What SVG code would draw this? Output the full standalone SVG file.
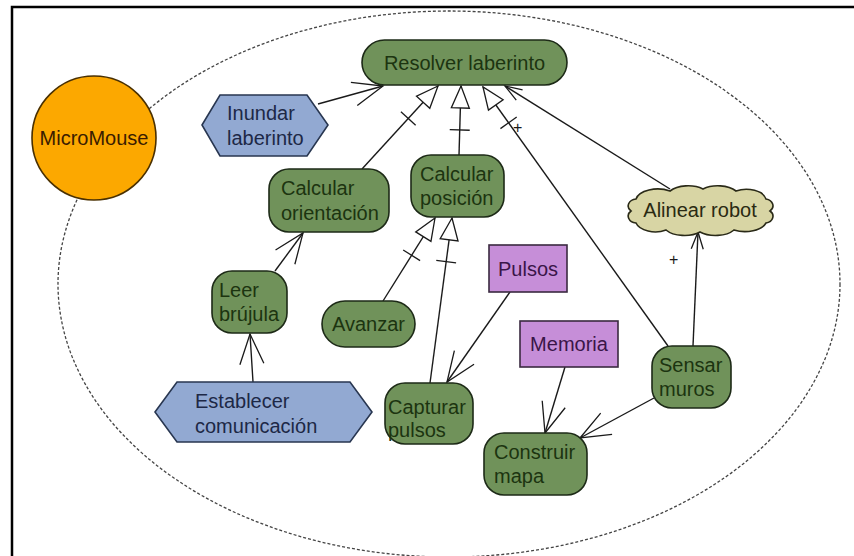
<svg xmlns="http://www.w3.org/2000/svg" width="854" height="556" viewBox="0 0 854 556">
  <style>
    text { font-family: "Liberation Sans", Arial, sans-serif; font-size: 20px; }
    .uc { fill: #70925a; stroke: #1d2a17; stroke-width: 1.6; }
    .uc-t { fill: #1c3410; }
    .hex { fill: #92a9d2; stroke: #283650; stroke-width: 1.6; }
    .hex-t { fill: #1d2846; }
    .cls { fill: #c68ed8; stroke: #3a2a40; stroke-width: 1.6; }
    .cls-t { fill: #3a1548; }
    .edge { fill: none; stroke: #1a1a1a; stroke-width: 1.4; }
    .lbl { fill: #1a1a1a; font-size: 16px; }
  </style>
  <defs>
    <marker id="open" markerUnits="userSpaceOnUse" markerWidth="40" markerHeight="40" viewBox="-36 -20 40 40" refX="0" refY="0" orient="auto" overflow="visible">
      <path d="M-30,-12 L0,0 L-30,12" fill="none" stroke="#1a1a1a" stroke-width="1.3"/>
    </marker>
    <marker id="openS" markerUnits="userSpaceOnUse" markerWidth="24" markerHeight="24" viewBox="-20 -12 24 24" refX="0" refY="0" orient="auto" overflow="visible">
      <path d="M-17,-6 L0,0 L-17,6" fill="none" stroke="#1a1a1a" stroke-width="1.3"/>
    </marker>
    <marker id="gen" markerUnits="userSpaceOnUse" markerWidth="60" markerHeight="30" viewBox="-50 -15 60 30" refX="0" refY="0" orient="auto" overflow="visible">
      <path d="M0,0 L-22,-9 L-22,9 Z" fill="#fff" stroke="#1a1a1a" stroke-width="1.3"/>
      <line x1="-44" y1="-10" x2="-44" y2="10" stroke="#1a1a1a" stroke-width="1.3"/>
    </marker>
  </defs>

  <rect width="854" height="556" fill="#fff"/>
  <!-- frame -->
  <rect x="12" y="7" width="900" height="600" fill="none" stroke="#000" stroke-width="2.5"/>
  <!-- system boundary -->
  <ellipse cx="449" cy="284" rx="391" ry="273" fill="none" stroke="#444" stroke-width="1.3" stroke-dasharray="3 2"/>

  <g id="connectors">
    <line class="edge" x1="318" y1="104" x2="383" y2="86" marker-end="url(#open)"/>
    <line class="edge" x1="362" y1="169" x2="438" y2="86" marker-end="url(#gen)"/>
    <line class="edge" x1="459" y1="155" x2="461" y2="86" marker-end="url(#gen)"/>
    <line class="edge" x1="668" y1="346" x2="483" y2="87" marker-end="url(#gen)"/>
    <line class="edge" x1="670" y1="189" x2="505" y2="86" marker-end="url(#openS)"/>
    <line class="edge" x1="275" y1="271" x2="303" y2="233" marker-end="url(#open)"/>
    <line class="edge" x1="253" y1="382" x2="250" y2="334" marker-end="url(#open)"/>
    <line class="edge" x1="383" y1="301" x2="435" y2="218" marker-end="url(#gen)"/>
    <line class="edge" x1="430" y1="383" x2="452" y2="218" marker-end="url(#gen)"/>
    <line class="edge" x1="510" y1="292" x2="447" y2="382" marker-end="url(#open)"/>
    <line class="edge" x1="565" y1="367" x2="545" y2="433" marker-end="url(#open)"/>
    <line class="edge" x1="654" y1="398" x2="580" y2="438" marker-end="url(#open)"/>
    <line class="edge" x1="693" y1="346" x2="698" y2="232" marker-end="url(#openS)"/>
    <text class="lbl" x="513" y="133">+</text>
    <text class="lbl" x="669" y="265">+</text>
  </g>

  <g id="micromouse">
    <circle cx="94" cy="138" r="62" fill="#fca800" stroke="#4a3000" stroke-width="1.6"/>
    <text x="94" y="145" text-anchor="middle" fill="#3a1c00">MicroMouse</text>
  </g>

  <g id="resolver-laberinto">
    <rect class="uc" x="362" y="40" width="205" height="45" rx="22.5"/>
    <text class="uc-t" x="464.5" y="70" text-anchor="middle">Resolver laberinto</text>
  </g>

  <g id="inundar-laberinto">
    <polygon class="hex" points="202,125 220,95 307,95 328,125 307,156 220,156"/>
    <text class="hex-t" x="227" y="120">Inundar</text>
    <text class="hex-t" x="227" y="145">laberinto</text>
  </g>

  <g id="calcular-orientacion">
    <rect class="uc" x="269" y="169" width="120" height="63" rx="20"/>
    <text class="uc-t" x="281" y="195">Calcular</text>
    <text class="uc-t" x="281" y="220">orientación</text>
  </g>

  <g id="calcular-posicion">
    <rect class="uc" x="411" y="155" width="93" height="62" rx="20"/>
    <text class="uc-t" x="420" y="181">Calcular</text>
    <text class="uc-t" x="420" y="205">posición</text>
  </g>

  <g id="alinear-robot">
    <path d="M636,199 A22,12 0 0 1 670,191 A22,12 0 0 1 703,189 A22,12 0 0 1 736,191 A20,12 0 0 1 766,199 A9,7 0 0 1 770,211 A9,7 0 0 1 766,223 A22,12 0 0 1 734,230 A22,12 0 0 1 700,232 A22,12 0 0 1 666,230 A20,12 0 0 1 636,223 A9,7 0 0 1 631,211 A9,7 0 0 1 636,199 Z" fill="#d8d5a4" stroke="#2a2a18" stroke-width="1.6"/>
    <text x="700" y="217" text-anchor="middle" fill="#2a2a12">Alinear robot</text>
  </g>

  <g id="leer-brujula">
    <rect class="uc" x="212" y="271" width="75" height="62" rx="20"/>
    <text class="uc-t" x="219" y="297">Leer</text>
    <text class="uc-t" x="219" y="321">brújula</text>
  </g>

  <g id="avanzar">
    <rect class="uc" x="322" y="301" width="93" height="46" rx="23"/>
    <text class="uc-t" x="368.5" y="331" text-anchor="middle">Avanzar</text>
  </g>

  <g id="establecer-comunicacion">
    <polygon class="hex" points="155,412 177,382 350,382 372,412 350,442 177,442"/>
    <text class="hex-t" x="195" y="408">Establecer</text>
    <text class="hex-t" x="195" y="433">comunicación</text>
  </g>

  <g id="pulsos">
    <rect class="cls" x="489" y="245" width="78" height="47"/>
    <text class="cls-t" x="528" y="276" text-anchor="middle">Pulsos</text>
  </g>

  <g id="memoria">
    <rect class="cls" x="520" y="321" width="98" height="46"/>
    <text class="cls-t" x="569" y="351" text-anchor="middle">Memoria</text>
  </g>

  <g id="capturar-pulsos">
    <rect class="uc" x="385" y="383" width="88" height="61" rx="20"/>
    <text class="uc-t" x="388" y="414">Capturar</text>
    <text class="uc-t" x="388" y="437">pulsos</text>
  </g>

  <g id="construir-mapa">
    <rect class="uc" x="484" y="433" width="103" height="62" rx="20"/>
    <text class="uc-t" x="494" y="459">Construir</text>
    <text class="uc-t" x="494" y="483">mapa</text>
  </g>

  <g id="sensar-muros">
    <rect class="uc" x="652" y="346" width="79" height="62" rx="20"/>
    <text class="uc-t" x="659" y="372">Sensar</text>
    <text class="uc-t" x="659" y="396">muros</text>
  </g>
</svg>
